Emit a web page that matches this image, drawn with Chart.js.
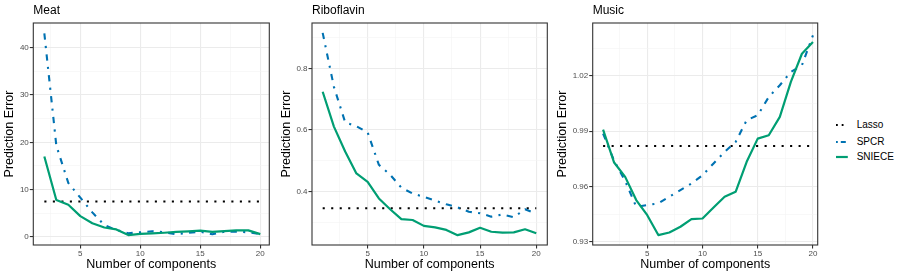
<!DOCTYPE html>
<html>
<head>
<meta charset="utf-8">
<script src="https://cdn.jsdelivr.net/npm/chart.js@4.4.1/dist/chart.umd.min.js"></script>
<style>
  body { margin: 0; background: #fff; width: 900px; height: 277px; overflow: hidden; position: relative;
         font-family: "Liberation Sans", Arial, sans-serif; }
  .panel { position: absolute; top: 0; height: 277px; }
  .legend-item { position: absolute; left: 836px; height: 12px; line-height: 12px; font-size: 10px; color: #000; white-space: nowrap; }
  .legend-item svg { position: absolute; left: 0; top: 0; }
  .legend-item span { position: absolute; left: 20.7px; top: 0; }
</style>
</head>
<body>
<div class="panel" style="left:0px;width:272px"><canvas id="meatChart"></canvas></div>
<div class="panel" style="left:273px;width:279px"><canvas id="riboChart"></canvas></div>
<div class="panel" style="left:552px;width:273px"><canvas id="musicChart"></canvas></div>

<div class="legend-item" style="top:119px">
  <svg width="18" height="12"><line x1="0" y1="6" x2="7.5" y2="6" stroke="#000" stroke-width="2" stroke-dasharray="1.8 3.9"/></svg>
  <span>Lasso</span>
</div>
<div class="legend-item" style="top:135.7px">
  <svg width="18" height="12"><line x1="0" y1="6" x2="9.8" y2="6" stroke="#0072B2" stroke-width="2" stroke-dasharray="1.8 3 5 10"/></svg>
  <span>SPCR</span>
</div>
<div class="legend-item" style="top:150.7px">
  <svg width="18" height="12"><line x1="0" y1="6" x2="11.8" y2="6" stroke="#009E73" stroke-width="2.2"/></svg>
  <span>SNIECE</span>
</div>

<script>
// number of components on the x axis, per data set
const meatComponents = [2, 3, 4, 5, 6, 7, 8, 9, 10, 11, 12, 13, 14, 15, 16, 17, 18, 19, 20];
const riboComponents = [1, 2, 3, 4, 5, 6, 7, 8, 9, 10, 11, 12, 13, 14, 15, 16, 17, 18, 19, 20];
const musicComponents = [1, 2, 3, 4, 5, 6, 7, 8, 9, 10, 11, 12, 13, 14, 15, 16, 17, 18, 19, 20];

// prediction errors
const meatLasso = [7.5, 7.5, 7.5, 7.5, 7.5, 7.5, 7.5, 7.5, 7.5, 7.5, 7.5, 7.5, 7.5, 7.5, 7.5, 7.5, 7.5, 7.5, 7.5];
const meatSpcr = [43.0, 19.3, 11.4, 8.3, 5.2, 2.5, 1.5, 0.8, 1.0, 1.2, 1.0, 0.6, 0.9, 1.1, 0.6, 1.1, 1.1, 1.0, 0.6];
const meatSniece = [17.0, 7.8, 6.8, 4.4, 2.9, 2.0, 1.6, 0.4, 0.65, 0.75, 0.9, 1.1, 1.2, 1.35, 1.1, 1.25, 1.4, 1.4, 0.6];

const riboLasso = [0.346, 0.346, 0.346, 0.346, 0.346, 0.346, 0.346, 0.346, 0.346, 0.346, 0.346, 0.346, 0.346, 0.346, 0.346, 0.346, 0.346, 0.346, 0.346, 0.346];
const riboSpcr = [0.915, 0.74, 0.625, 0.612, 0.592, 0.487, 0.455, 0.413, 0.394, 0.383, 0.371, 0.359, 0.349, 0.335, 0.330, 0.319, 0.326, 0.317, 0.343, 0.328];
const riboSniece = [0.724, 0.611, 0.53, 0.459, 0.432, 0.378, 0.343, 0.311, 0.308, 0.289, 0.284, 0.276, 0.259, 0.268, 0.283, 0.270, 0.267, 0.268, 0.278, 0.265];

const musicLasso = [0.982, 0.982, 0.982, 0.982, 0.982, 0.982, 0.982, 0.982, 0.982, 0.982, 0.982, 0.982, 0.982, 0.982, 0.982, 0.982, 0.982, 0.982, 0.982, 0.982];
const musicSpcr = [0.9887, 0.974, 0.963, 0.949, 0.9499, 0.9508, 0.9544, 0.958, 0.9616, 0.9661, 0.9725, 0.9788, 0.9842, 0.996, 0.9987, 1.0086, 1.015, 1.0222, 1.0258, 1.0421];
const musicSniece = [0.9909, 0.973, 0.9652, 0.9526, 0.9444, 0.9336, 0.935, 0.9381, 0.9423, 0.9426, 0.9486, 0.9544, 0.9571, 0.9734, 0.986, 0.9878, 0.9978, 1.0168, 1.0321, 1.0385];

// axis ticks (major ticks are labelled, minor ones only get a faint grid line)
const xTicks = [5, 10, 15, 20];
const xTickLabels = ['5', '10', '15', '20'];
const xMinorTicks = [2.5, 7.5, 12.5, 17.5];

const meatYTicks = [0, 10, 20, 30, 40];
const meatYTickLabels = ['0', '10', '20', '30', '40'];
const meatYMinorTicks = [5, 15, 25, 35];

const riboYTicks = [0.4, 0.6, 0.8];
const riboYTickLabels = ['0.4', '0.6', '0.8'];
const riboYMinorTicks = [0.3, 0.5, 0.7, 0.9];

const musicYTicks = [0.93, 0.96, 0.99, 1.02];
const musicYTickLabels = ['0.93', '0.96', '0.99', '1.02'];
const musicYMinorTicks = [0.945, 0.975, 1.005, 1.035];

(function () {
  const Chart = window.Chart;
  if (!Chart) return;
  Chart.defaults.font.family = '"Liberation Sans", Arial, sans-serif';

  const panelBorder = {
    id: 'panelBorder',
    afterDatasetsDraw(chart) {
      const { ctx, chartArea: a } = chart;
      ctx.save();
      ctx.strokeStyle = '#333333';
      ctx.lineWidth = 1.1;
      ctx.strokeRect(a.left, a.top, a.right - a.left, a.bottom - a.top);
      ctx.restore();
    }
  };

  function points(xs, ys) {
    return xs.map((x, i) => ({ x, y: ys[i] }));
  }

  function tickAxis(major, labels, minor) {
    const all = major.concat(minor).sort((a, b) => a - b);
    const idx = (v) => major.findIndex((m) => Math.abs(m - v) < 1e-9);
    const isMajor = (c) => c.tick && idx(c.tick.value) >= 0;
    return {
      bounds: 'data',
      afterBuildTicks(scale) { scale.ticks = all.map((v) => ({ value: v })); },
      border: { display: false },
      grid: {
        color: (c) => (isMajor(c) ? '#EBEBEB' : '#F4F4F4'),
        lineWidth: (c) => (isMajor(c) ? 1.1 : 0.6),
        tickColor: (c) => (isMajor(c) ? '#333333' : 'rgba(0,0,0,0)'),
        tickLength: 3.5,
        tickWidth: 1.1
      },
      ticks: {
        autoSkip: false,
        maxRotation: 0,
        color: '#4D4D4D',
        font: { size: 8 },
        callback(v) { const i = idx(v); return i < 0 ? '' : labels[i]; }
      }
    };
  }

  function makePanel(id, p) {
    const canvas = document.getElementById(id);
    const x = tickAxis(xTicks, xTickLabels, xMinorTicks);
    Object.assign(x, {
      type: 'linear', min: p.xMin, max: p.xMax,
      afterFit(scale) { scale.height = 32; },
      title: { display: true, text: 'Number of components', color: '#000', font: { size: 12.5 }, padding: { top: 0, bottom: 5 } }
    });
    x.ticks.padding = 0;
    const y = tickAxis(p.yTicks, p.yLabels, p.yMinor);
    Object.assign(y, {
      type: 'linear', min: p.yMin, max: p.yMax,
      afterFit(scale) { scale.width = p.yWidth; },
      title: { display: true, text: 'Prediction Error', color: '#000', font: { size: 12.5 }, padding: { top: p.yTitlePad, bottom: 0 } }
    });
    y.ticks.padding = 1;

    // eslint-disable-next-line no-new
    new Chart(canvas.getContext('2d'), {
      type: 'line',
      data: {
        datasets: [
          {
            label: 'Lasso', data: points(p.xs, p.lasso), order: 2,
            borderColor: '#000000', borderWidth: 2.1, borderDash: [2.1, 6.4]
          },
          {
            label: 'SPCR', data: points(p.xs, p.spcr), order: 1,
            borderColor: '#0072B2', borderWidth: 2.1, borderDash: [6.3, 6.3, 2.1, 6.3]
          },
          {
            label: 'SNIECE', data: points(p.xs, p.sniece), order: 0,
            borderColor: '#009E73', borderWidth: 2.2
          }
        ]
      },
      options: {
        responsive: true,
        maintainAspectRatio: false,
        animation: false,
        parsing: true,
        elements: {
          point: { radius: 0, hoverRadius: 0 },
          line: { tension: 0, fill: false, borderCapStyle: 'butt', borderJoinStyle: 'round' }
        },
        layout: { padding: { left: 0, right: p.rightPad, top: 0, bottom: 0 } },
        plugins: {
          legend: { display: false },
          tooltip: { enabled: false },
          title: {
            display: true, text: p.title, align: 'start', fullSize: false,
            color: '#000', font: { size: 12, weight: 'normal' }, padding: { top: 3, bottom: 5.6 }
          }
        },
        scales: { x, y }
      },
      plugins: [panelBorder]
    });
  }

  makePanel('meatChart', {
    title: 'Meat', xs: meatComponents, lasso: meatLasso, spcr: meatSpcr, sniece: meatSniece,
    xMin: 1.08, xMax: 20.75, yMin: -1.69, yMax: 45.2,
    yTicks: meatYTicks, yLabels: meatYTickLabels, yMinor: meatYMinorTicks,
    yWidth: 33.3, yTitlePad: 2.5, rightPad: 2.7
  });
  makePanel('riboChart', {
    title: 'Riboflavin', xs: riboComponents, lasso: riboLasso, spcr: riboSpcr, sniece: riboSniece,
    xMin: 0.05, xMax: 20.98, yMin: 0.227, yMax: 0.947,
    yTicks: riboYTicks, yLabels: riboYTickLabels, yMinor: riboYMinorTicks,
    yWidth: 39, yTitlePad: 5.9, rightPad: 4.7
  });
  makePanel('musicChart', {
    title: 'Music', xs: musicComponents, lasso: musicLasso, spcr: musicSpcr, sniece: musicSniece,
    xMin: 0.06, xMax: 20.43, yMin: 0.9282, yMax: 1.0488,
    yTicks: musicYTicks, yLabels: musicYTickLabels, yMinor: musicYMinorTicks,
    yWidth: 40.7, yTitlePad: 3, rightPad: 7.3
  });
})();
</script>
</body>
</html>
